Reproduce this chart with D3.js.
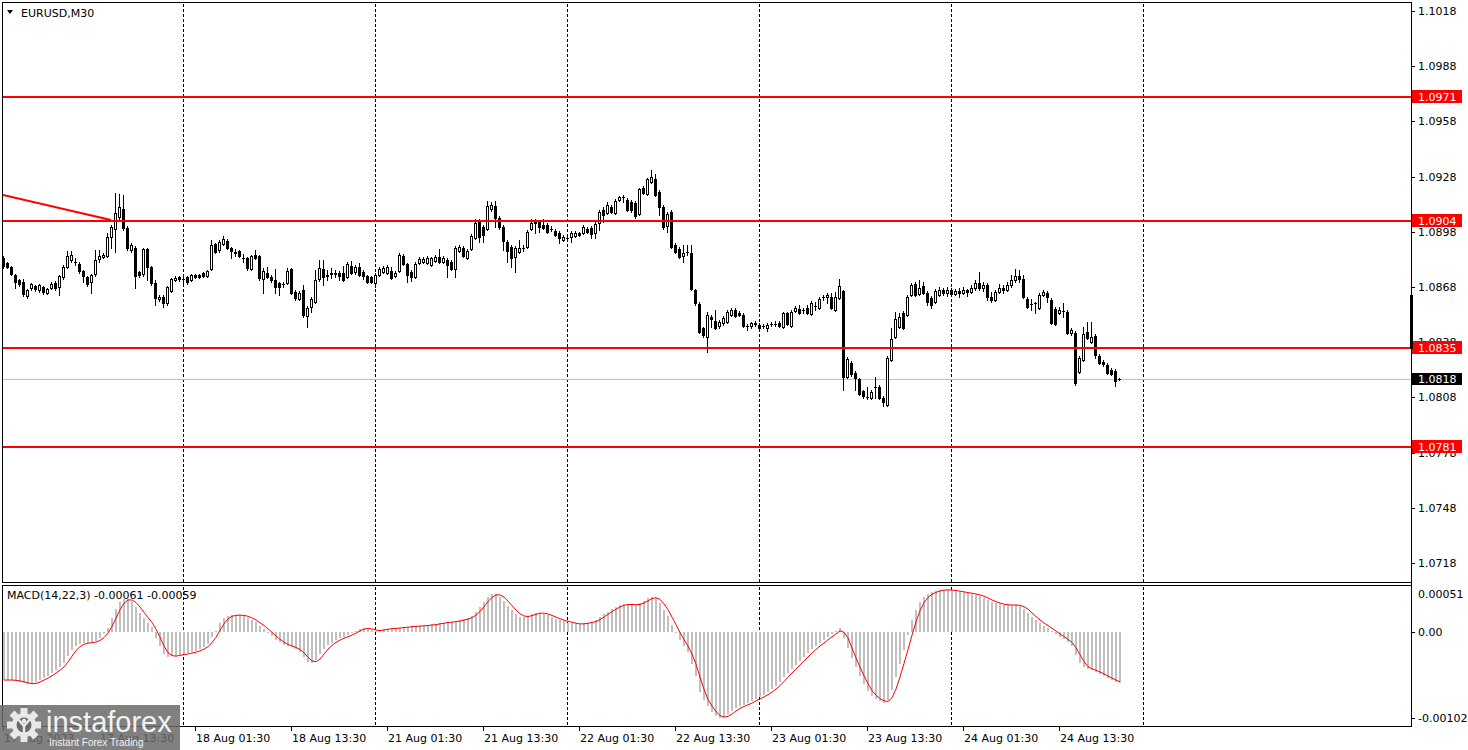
<!DOCTYPE html>
<html><head><meta charset="utf-8">
<script src="https://cdn.jsdelivr.net/npm/d3@7"></script>
<style>
body{margin:0;background:#fff;overflow:hidden;}
svg{display:block;}
text{font-family:"DejaVu Sans",sans-serif;font-size:11px;}
</style>
</head><body>
<svg id="c" width="1468" height="750"></svg>
<script>
// ---------- DATA (EURUSD M30, 17–24 Aug 2023) ----------
const opens = [
1.08837,1.08810,1.08789,1.08745,1.08718,1.08707,1.08631,1.08675,1.08685,1.08664,
1.08680,1.08647,1.08675,1.08702,1.08680,1.08734,1.08789,1.08827,1.08816,1.08805,
1.08767,1.08734,1.08707,1.08751,1.08832,1.08843,1.08848,1.08952,1.08995,1.09060,
1.09104,1.09001,1.08881,1.08892,1.08762,1.08751,1.08886,1.08789,1.08702,1.08615,
1.08626,1.08593,1.08658,1.08718,1.08734,1.08723,1.08734,1.08718,1.08745,1.08745,
1.08756,1.08740,1.08778,1.08914,1.08881,1.08914,1.08930,1.08892,1.08870,1.08876,
1.08837,1.08837,1.08778,1.08854,1.08848,1.08723,1.08756,1.08734,1.08718,1.08702,
1.08696,1.08702,1.08778,1.08653,1.08615,1.08664,1.08522,1.08571,1.08598,1.08723,
1.08778,1.08740,1.08751,1.08756,1.08756,1.08756,1.08734,1.08794,1.08762,1.08789,
1.08762,1.08740,1.08734,1.08702,1.08745,1.08762,1.08756,1.08767,1.08740,1.08767,
1.08848,1.08805,1.08762,1.08734,1.08810,1.08816,1.08810,1.08800,1.08821,1.08843,
1.08816,1.08827,1.08816,1.08778,1.08876,1.08892,1.08837,1.08886,1.08946,1.09039,
1.09006,1.08995,1.09104,1.09120,1.09055,1.09006,1.08924,1.08897,1.08843,1.08870,
1.08892,1.08897,1.08995,1.09039,1.09033,1.09017,1.09017,1.08995,1.08984,1.08973,
1.08935,1.08946,1.08952,1.08957,1.08973,1.08973,1.08995,1.09001,1.08973,1.09028,
1.09098,1.09082,1.09115,1.09082,1.09153,1.09169,1.09153,1.09142,1.09137,1.09077,
1.09218,1.09185,1.09251,1.09267,1.09196,1.09115,1.09011,1.09088,1.08908,1.08886,
1.08848,1.08870,1.08865,1.08664,1.08588,1.08457,1.08408,1.08517,1.08495,1.08468,
1.08484,1.08490,1.08528,1.08555,1.08539,1.08528,1.08468,1.08468,1.08484,1.08473,
1.08468,1.08457,1.08479,1.08479,1.08484,1.08462,1.08539,1.08468,1.08550,1.08560,
1.08555,1.08566,1.08533,1.08577,1.08566,1.08626,1.08626,1.08626,1.08555,1.08620,
1.08658,1.08191,1.08267,1.08212,1.08180,1.08115,1.08082,1.08077,1.08137,1.08137,
1.08077,1.08039,1.08283,1.08408,1.08462,1.08539,1.08528,1.08636,1.08696,1.08642,
1.08685,1.08647,1.08620,1.08598,1.08636,1.08664,1.08647,1.08664,1.08642,1.08658,
1.08647,1.08664,1.08653,1.08675,1.08702,1.08675,1.08691,1.08626,1.08609,1.08653,
1.08675,1.08664,1.08691,1.08718,1.08740,1.08723,1.08615,1.08588,1.08593,1.08566,
1.08636,1.08647,1.08609,1.08560,1.08539,1.08550,1.08544,1.08430,1.08430,1.08218,
1.08283,1.08435,1.08381,1.08414,1.08305,1.08272,1.08256,1.08229,1.08223,1.08180];
const highs = [
1.08848,1.08816,1.08794,1.08751,1.08723,1.08723,1.08669,1.08702,1.08691,1.08696,
1.08685,1.08675,1.08707,1.08713,1.08745,1.08800,1.08876,1.08876,1.08837,1.08816,
1.08772,1.08740,1.08751,1.08881,1.08881,1.08865,1.08973,1.09017,1.09191,1.09185,
1.09180,1.09011,1.08919,1.08903,1.08767,1.08892,1.08892,1.08794,1.08718,1.08636,
1.08636,1.08685,1.08729,1.08740,1.08740,1.08734,1.08740,1.08751,1.08751,1.08751,
1.08762,1.08772,1.08935,1.08919,1.08935,1.08957,1.08941,1.08897,1.08886,1.08881,
1.08859,1.08843,1.08854,1.08881,1.08854,1.08783,1.08789,1.08745,1.08778,1.08707,
1.08707,1.08783,1.08783,1.08664,1.08658,1.08691,1.08577,1.08626,1.08772,1.08827,
1.08827,1.08772,1.08783,1.08772,1.08767,1.08794,1.08816,1.08821,1.08800,1.08810,
1.08772,1.08745,1.08740,1.08756,1.08789,1.08794,1.08800,1.08789,1.08767,1.08865,
1.08859,1.08810,1.08772,1.08816,1.08843,1.08843,1.08848,1.08843,1.08854,1.08886,
1.08848,1.08837,1.08827,1.08903,1.08908,1.08903,1.08886,1.08968,1.09049,1.09049,
1.09017,1.09147,1.09142,1.09147,1.09066,1.09017,1.08935,1.08908,1.08903,1.08935,
1.08908,1.08990,1.09049,1.09049,1.09044,1.09049,1.09028,1.09011,1.08995,1.08984,
1.08963,1.08957,1.08984,1.08984,1.08979,1.09017,1.09006,1.09011,1.09033,1.09098,
1.09115,1.09142,1.09126,1.09158,1.09175,1.09180,1.09164,1.09153,1.09147,1.09218,
1.09229,1.09273,1.09316,1.09294,1.09207,1.09126,1.09088,1.09098,1.08919,1.08897,
1.08908,1.08908,1.08908,1.08669,1.08598,1.08462,1.08544,1.08528,1.08555,1.08501,
1.08522,1.08555,1.08566,1.08566,1.08550,1.08539,1.08479,1.08490,1.08495,1.08484,
1.08479,1.08484,1.08490,1.08495,1.08495,1.08544,1.08544,1.08555,1.08577,1.08582,
1.08566,1.08582,1.08604,1.08598,1.08626,1.08636,1.08647,1.08647,1.08653,1.08723,
1.08664,1.08299,1.08278,1.08223,1.08185,1.08120,1.08137,1.08120,1.08191,1.08147,
1.08088,1.08305,1.08457,1.08544,1.08539,1.08550,1.08636,1.08702,1.08707,1.08718,
1.08707,1.08658,1.08631,1.08669,1.08680,1.08675,1.08680,1.08675,1.08669,1.08675,
1.08680,1.08669,1.08691,1.08718,1.08762,1.08707,1.08702,1.08653,1.08664,1.08696,
1.08691,1.08707,1.08745,1.08778,1.08772,1.08745,1.08626,1.08615,1.08598,1.08647,
1.08664,1.08658,1.08620,1.08571,1.08571,1.08593,1.08555,1.08457,1.08441,1.08305,
1.08462,1.08490,1.08490,1.08424,1.08316,1.08283,1.08267,1.08240,1.08234,1.08185];
const lows = [
1.08783,1.08783,1.08745,1.08675,1.08685,1.08631,1.08620,1.08664,1.08658,1.08653,
1.08642,1.08642,1.08669,1.08664,1.08636,1.08723,1.08783,1.08816,1.08800,1.08756,
1.08707,1.08685,1.08647,1.08740,1.08816,1.08837,1.08843,1.08892,1.08870,1.09049,
1.08990,1.08881,1.08870,1.08675,1.08734,1.08740,1.08718,1.08691,1.08582,1.08604,
1.08571,1.08582,1.08653,1.08713,1.08713,1.08696,1.08696,1.08713,1.08729,1.08729,
1.08734,1.08734,1.08772,1.08865,1.08870,1.08908,1.08886,1.08837,1.08848,1.08843,
1.08816,1.08772,1.08772,1.08832,1.08718,1.08647,1.08729,1.08707,1.08647,1.08636,
1.08680,1.08696,1.08642,1.08609,1.08609,1.08517,1.08462,1.08544,1.08593,1.08713,
1.08691,1.08718,1.08729,1.08734,1.08718,1.08713,1.08729,1.08751,1.08751,1.08740,
1.08723,1.08702,1.08702,1.08680,1.08740,1.08756,1.08751,1.08723,1.08734,1.08762,
1.08800,1.08707,1.08713,1.08729,1.08805,1.08810,1.08805,1.08794,1.08816,1.08810,
1.08810,1.08734,1.08772,1.08734,1.08870,1.08843,1.08832,1.08881,1.08941,1.08924,
1.08924,1.08990,1.09093,1.09006,1.08995,1.08881,1.08816,1.08789,1.08762,1.08865,
1.08876,1.08892,1.08990,1.08973,1.08979,1.08995,1.08973,1.08984,1.08957,1.08919,
1.08930,1.08935,1.08924,1.08952,1.08957,1.08968,1.08973,1.08946,1.08946,1.08990,
1.09033,1.09077,1.09082,1.09077,1.09147,1.09142,1.09093,1.09088,1.09055,1.09071,
1.09185,1.09180,1.09245,1.09175,1.09071,1.08995,1.08979,1.08892,1.08865,1.08837,
1.08816,1.08854,1.08664,1.08582,1.08430,1.08408,1.08327,1.08462,1.08452,1.08457,
1.08473,1.08484,1.08522,1.08517,1.08522,1.08462,1.08446,1.08457,1.08468,1.08446,
1.08457,1.08441,1.08468,1.08468,1.08462,1.08457,1.08473,1.08462,1.08544,1.08533,
1.08539,1.08533,1.08528,1.08555,1.08560,1.08609,1.08593,1.08560,1.08550,1.08615,
1.08120,1.08185,1.08196,1.08120,1.08093,1.08077,1.08071,1.08071,1.08077,1.08071,
1.08033,1.08033,1.08278,1.08403,1.08457,1.08452,1.08522,1.08631,1.08631,1.08636,
1.08642,1.08582,1.08566,1.08593,1.08631,1.08636,1.08631,1.08631,1.08636,1.08626,
1.08642,1.08631,1.08647,1.08664,1.08664,1.08658,1.08609,1.08598,1.08604,1.08647,
1.08647,1.08658,1.08680,1.08707,1.08707,1.08620,1.08566,1.08555,1.08539,1.08560,
1.08631,1.08598,1.08479,1.08473,1.08533,1.08517,1.08424,1.08419,1.08147,1.08212,
1.08278,1.08397,1.08375,1.08294,1.08261,1.08251,1.08207,1.08202,1.08142,1.08175];
const closes = [
1.08794,1.08789,1.08751,1.08707,1.08696,1.08642,1.08664,1.08696,1.08669,1.08691,
1.08653,1.08669,1.08696,1.08675,1.08740,1.08789,1.08848,1.08854,1.08814,1.08767,
1.08740,1.08696,1.08745,1.08827,1.08848,1.08854,1.08952,1.09006,1.09082,1.09115,
1.09001,1.08892,1.08908,1.08740,1.08745,1.08886,1.08789,1.08702,1.08620,1.08626,
1.08593,1.08680,1.08723,1.08729,1.08723,1.08721,1.08707,1.08745,1.08734,1.08734,
1.08740,1.08767,1.08908,1.08870,1.08924,1.08941,1.08892,1.08876,1.08865,1.08848,
1.08835,1.08783,1.08848,1.08837,1.08729,1.08767,1.08734,1.08718,1.08680,1.08680,
1.08694,1.08767,1.08647,1.08620,1.08647,1.08528,1.08566,1.08615,1.08718,1.08783,
1.08734,1.08745,1.08756,1.08751,1.08740,1.08718,1.08805,1.08756,1.08789,1.08745,
1.08740,1.08707,1.08707,1.08745,1.08778,1.08783,1.08789,1.08729,1.08756,1.08854,
1.08805,1.08745,1.08734,1.08805,1.08832,1.08832,1.08837,1.08837,1.08843,1.08816,
1.08837,1.08800,1.08778,1.08892,1.08897,1.08848,1.08876,1.08957,1.09028,1.08952,
1.08963,1.09120,1.09126,1.09055,1.09006,1.08930,1.08876,1.08837,1.08892,1.08892,
1.08890,1.08979,1.09028,1.09028,1.09006,1.09001,1.08979,1.08993,1.08963,1.08946,
1.08952,1.08944,1.08973,1.08973,1.08963,1.09006,1.08979,1.08968,1.09022,1.09088,
1.09071,1.09126,1.09088,1.09147,1.09169,1.09167,1.09098,1.09098,1.09066,1.09213,
1.09191,1.09267,1.09278,1.09180,1.09115,1.09006,1.09077,1.08897,1.08870,1.08843,
1.08865,1.08868,1.08669,1.08593,1.08435,1.08419,1.08528,1.08506,1.08457,1.08490,
1.08511,1.08544,1.08555,1.08522,1.08528,1.08468,1.08466,1.08484,1.08479,1.08457,
1.08466,1.08473,1.08477,1.08481,1.08468,1.08539,1.08479,1.08544,1.08566,1.08539,
1.08553,1.08539,1.08593,1.08579,1.08615,1.08624,1.08636,1.08566,1.08626,1.08685,
1.08191,1.08289,1.08207,1.08185,1.08098,1.08088,1.08080,1.08109,1.08135,1.08077,
1.08055,1.08294,1.08397,1.08506,1.08517,1.08457,1.08626,1.08691,1.08636,1.08675,
1.08647,1.08598,1.08582,1.08658,1.08664,1.08647,1.08664,1.08642,1.08658,1.08647,
1.08664,1.08653,1.08675,1.08702,1.08675,1.08691,1.08626,1.08609,1.08653,1.08675,
1.08664,1.08691,1.08718,1.08740,1.08723,1.08626,1.08571,1.08586,1.08591,1.08636,
1.08653,1.08626,1.08484,1.08479,1.08555,1.08548,1.08430,1.08446,1.08158,1.08294,
1.08424,1.08403,1.08408,1.08310,1.08267,1.08261,1.08212,1.08207,1.08169,1.08180];
// MACD(14,22,3) main line (histogram), read bar by bar
const macdHist = [
-0.00057,-0.00057,-0.00057,-0.00058,-0.00059,-0.00060,-0.00062,-0.00062,-0.00059,-0.00057,
-0.00055,-0.00052,-0.00049,-0.00045,-0.00042,-0.00037,-0.00028,-0.00021,-0.00017,-0.00014,
-0.00013,-0.00013,-0.00012,-0.00011,-0.00007,-0.00002,0.00005,0.00017,0.00027,0.00036,
0.00039,0.00039,0.00036,0.00030,0.00023,0.00017,0.00011,0.00006,-0.00007,-0.00017,
-0.00026,-0.00030,-0.00028,-0.00028,-0.00027,-0.00026,-0.00025,-0.00024,-0.00023,-0.00020,
-0.00018,-0.00014,-0.00006,0.00001,0.00011,0.00017,0.00019,0.00020,0.00020,0.00020,
0.00019,0.00017,0.00014,0.00012,0.00007,0.00004,0.00000,-0.00005,-0.00009,-0.00012,
-0.00015,-0.00017,-0.00018,-0.00020,-0.00024,-0.00030,-0.00036,-0.00037,-0.00033,-0.00026,
-0.00020,-0.00015,-0.00013,-0.00009,-0.00007,-0.00006,-0.00004,-0.00001,0.00001,0.00004,
0.00005,0.00004,0.00002,0.00001,0.00002,0.00004,0.00004,0.00004,0.00005,0.00005,
0.00006,0.00006,0.00007,0.00007,0.00007,0.00008,0.00008,0.00009,0.00009,0.00011,
0.00011,0.00012,0.00012,0.00013,0.00014,0.00015,0.00017,0.00019,0.00024,0.00030,
0.00036,0.00042,0.00045,0.00045,0.00042,0.00037,0.00031,0.00026,0.00021,0.00018,
0.00018,0.00019,0.00021,0.00023,0.00023,0.00021,0.00020,0.00018,0.00015,0.00014,
0.00013,0.00011,0.00011,0.00009,0.00009,0.00011,0.00011,0.00012,0.00014,0.00018,
0.00021,0.00024,0.00027,0.00030,0.00032,0.00033,0.00033,0.00032,0.00032,0.00034,
0.00037,0.00040,0.00042,0.00040,0.00034,0.00026,0.00019,0.00008,-0.00001,-0.00009,
-0.00017,-0.00024,-0.00038,-0.00052,-0.00071,-0.00081,-0.00088,-0.00095,-0.00100,-0.00102,
-0.00101,-0.00097,-0.00094,-0.00090,-0.00088,-0.00087,-0.00084,-0.00082,-0.00079,-0.00077,
-0.00075,-0.00071,-0.00068,-0.00064,-0.00059,-0.00053,-0.00049,-0.00044,-0.00039,-0.00034,
-0.00030,-0.00025,-0.00020,-0.00017,-0.00013,-0.00009,-0.00006,-0.00002,0.00001,0.00005,
-0.00007,-0.00019,-0.00031,-0.00042,-0.00052,-0.00062,-0.00070,-0.00076,-0.00079,-0.00082,
-0.00084,-0.00081,-0.00069,-0.00053,-0.00038,-0.00021,-0.00004,0.00014,0.00026,0.00036,
0.00042,0.00045,0.00047,0.00049,0.00050,0.00050,0.00050,0.00049,0.00049,0.00047,
0.00047,0.00046,0.00045,0.00044,0.00043,0.00040,0.00038,0.00036,0.00034,0.00033,
0.00032,0.00032,0.00032,0.00032,0.00031,0.00027,0.00023,0.00018,0.00014,0.00011,
0.00007,0.00005,0.00001,-0.00002,-0.00006,-0.00008,-0.00012,-0.00017,-0.00027,-0.00037,
-0.00042,-0.00044,-0.00045,-0.00047,-0.00050,-0.00052,-0.00055,-0.00057,-0.00059,-0.00061];
const levels = [1.0971, 1.0904, 1.0835, 1.0781];
const currentPrice = 1.0818;
const priceTicks = [1.1018,1.0988,1.0958,1.0928,1.0898,1.0868,1.0838,1.0808,1.0778,1.0748,1.0718];
const macdTicks = [0.00051, 0.00, -0.00102];
const macdTickText = ["0.00051","0.00","-0.00102"];
const timeLabels = ["17 Aug 2023","17 Aug 13:30","18 Aug 01:30","18 Aug 13:30","21 Aug 01:30","21 Aug 13:30","22 Aug 01:30","22 Aug 13:30","23 Aug 01:30","23 Aug 13:30","24 Aug 01:30","24 Aug 13:30"];
const timeLabelIdx = [0,24,48,72,96,120,144,168,192,216,240,264];
const dayStartIdx = [45,93,141,189,237,285];
const trendIdx = [0, 27];
const trendPrice = [1.09180, 1.09044];
const title = "EURUSD,M30";
const macdTitle = "MACD(14,22,3) -0.00061 -0.00059";

// ---------- LAYOUT ----------
const L = 2.5, R = 1411.5, MT = 2.5, MB = 582.5, ST = 585.5, SB = 726.5;
const svg = d3.select('#c').attr('shape-rendering','crispEdges');
svg.append('rect').attr('width',1468).attr('height',750).attr('fill','#fff');

const x = d3.scaleLinear().domain([0,352]).range([3,1411]);
const y = d3.scaleLinear().domain([1.0718,1.1018]).range([563,11]);
const ym = d3.scaleLinear().domain([-0.00102,0]).range([718,632]);

const defs = svg.append('defs');
defs.append('clipPath').attr('id','cm').append('rect').attr('x',3).attr('y',3).attr('width',1408).attr('height',579);
defs.append('clipPath').attr('id','cs').append('rect').attr('x',3).attr('y',586).attr('width',1408).attr('height',140);

// grid (day separators)
[[MT,MB],[ST,SB]].forEach(([t,b])=>{
  svg.append('g').selectAll('line').data(dayStartIdx).join('line')
    .attr('x1',d=>Math.round(x(d))+0.5).attr('x2',d=>Math.round(x(d))+0.5)
    .attr('y1',t+1).attr('y2',b-0.5)
    .attr('stroke','#000').attr('stroke-width',1).attr('stroke-dasharray','3,2');
});

const gm = svg.append('g').attr('clip-path','url(#cm)');
// current price line
gm.append('line').attr('x1',3).attr('x2',1411).attr('y1',Math.round(y(currentPrice))+0.5).attr('y2',Math.round(y(currentPrice))+0.5)
  .attr('stroke','#c0c0c0').attr('stroke-width',1);

// candles
const candles = opens.map((o,i)=>({i,o,h:highs[i],l:lows[i],c:closes[i]}));
const cg = gm.append('g');
cg.selectAll('rect.w').data(candles).join('rect').attr('class','w')
  .attr('x',d=>Math.round(x(d.i))).attr('width',1)
  .attr('y',d=>Math.round(y(d.h))).attr('height',d=>Math.max(1,Math.round(y(d.l))-Math.round(y(d.h))+1))
  .attr('fill','#000');
function bodyTop(d){return Math.round(y(Math.max(d.o,d.c)));}
function bodyH(d){return Math.max(1,Math.round(y(Math.min(d.o,d.c)))-bodyTop(d)+1);}
cg.selectAll('rect.b').data(candles).join('rect').attr('class','b')
  .attr('x',d=>Math.round(x(d.i))-1).attr('width',3)
  .attr('y',bodyTop).attr('height',bodyH).attr('fill','#000');
cg.selectAll('rect.h').data(candles.filter(d=>d.c>d.o && bodyH(d)>2)).join('rect').attr('class','h')
  .attr('x',d=>Math.round(x(d.i))).attr('width',1)
  .attr('y',d=>bodyTop(d)+1).attr('height',d=>bodyH(d)-2).attr('fill','#fff');

// horizontal levels
gm.append('g').selectAll('line').data(levels).join('line')
  .attr('x1',3).attr('x2',1411).attr('y1',d=>Math.round(y(d))).attr('y2',d=>Math.round(y(d)))
  .attr('stroke','#ff0000').attr('stroke-width',2);
// trend line
gm.append('line').attr('x1',x(trendIdx[0])).attr('y1',y(trendPrice[0])).attr('x2',x(trendIdx[1])).attr('y2',y(trendPrice[1]))
  .attr('stroke','#ff0000').attr('stroke-width',2).attr('shape-rendering','auto');

// MACD panel
const gs = svg.append('g').attr('clip-path','url(#cs)');
gs.selectAll('rect').data(macdHist).join('rect')
  .attr('x',(d,i)=>Math.round(x(i))).attr('width',2)
  .attr('y',d=>Math.round(Math.min(ym(d),ym(0)))).attr('height',d=>Math.max(1,Math.round(Math.abs(ym(d)-ym(0)))))
  .attr('fill','#c0c0c0');
const signal = macdHist.map((v,i)=>d3.mean(macdHist.slice(Math.max(0,i-2),i+1)));
gs.append('path').datum(signal)
  .attr('d',d3.line().x((d,i)=>x(i)+1).y(d=>ym(d)))
  .attr('fill','none').attr('stroke','#ff0000').attr('stroke-width',1).attr('shape-rendering','auto');

// borders
svg.append('rect').attr('x',L).attr('y',MT).attr('width',R-L).attr('height',MB-MT).attr('fill','none').attr('stroke','#000');
svg.append('rect').attr('x',L).attr('y',ST).attr('width',R-L).attr('height',SB-ST).attr('fill','none').attr('stroke','#000');
svg.append('line').attr('x1',R).attr('x2',R).attr('y1',MT).attr('y2',SB).attr('stroke','#000');

// right price axis
const ax = svg.append('g');
ax.selectAll('line').data(priceTicks).join('line')
  .attr('x1',R).attr('x2',R+3).attr('y1',d=>Math.round(y(d))+0.5).attr('y2',d=>Math.round(y(d))+0.5).attr('stroke','#000');
ax.selectAll('text').data(priceTicks).join('text')
  .attr('x',1418).attr('y',d=>y(d)+4).attr('fill','#000').text(d=>d.toFixed(4));
// level labels
const lg = svg.append('g');
lg.selectAll('rect').data(levels).join('rect')
  .attr('x',1412).attr('y',d=>Math.round(y(d))-7).attr('width',50).attr('height',13).attr('fill','#ff0000');
lg.selectAll('text').data(levels).join('text')
  .attr('x',1418).attr('y',d=>Math.round(y(d))+4).attr('fill','#fff').text(d=>d.toFixed(4));
svg.append('rect').attr('x',1412).attr('y',Math.round(y(currentPrice))-6).attr('width',50).attr('height',12).attr('fill','#000');
svg.append('text').attr('x',1418).attr('y',Math.round(y(currentPrice))+4).attr('fill','#fff').text(currentPrice.toFixed(4));
// right-edge marker
svg.append('rect').attr('x',1410).attr('y',295).attr('width',3).attr('height',54).attr('fill','#000');

// MACD axis
svg.append('g').selectAll('line').data(macdTicks.slice(1)).join('line')
  .attr('x1',R).attr('x2',R+3).attr('y1',d=>Math.round(ym(d))+0.5).attr('y2',d=>Math.round(ym(d))+0.5).attr('stroke','#000');
svg.append('g').selectAll('text').data(macdTicks).join('text')
  .attr('x',1418).attr('y',(d,i)=>i===0?598:ym(d)+4).attr('fill','#000').text((d,i)=>macdTickText[i]);

// time axis
const tg = svg.append('g');
tg.selectAll('line').data(timeLabelIdx).join('line')
  .attr('x1',d=>Math.round(x(d))+0.5).attr('x2',d=>Math.round(x(d))+0.5).attr('y1',SB).attr('y2',SB+4).attr('stroke','#000');
tg.selectAll('text').data(timeLabels).join('text')
  .attr('x',(d,i)=>Math.round(x(timeLabelIdx[i]))+1).attr('y',742).attr('fill','#000').text(d=>d);

// titles
svg.append('path').attr('d','M7,10 L13,10 L10,14 Z').attr('fill','#000').attr('shape-rendering','auto');
svg.append('text').attr('x',21).attr('y',17).attr('fill','#000').text(title);
svg.append('text').attr('x',7).attr('y',599).attr('fill','#000').text(macdTitle);

// watermark logo
const lgo = svg.append('g').attr('shape-rendering','auto');
lgo.append('rect').attr('x',0).attr('y',705).attr('width',180).attr('height',45).attr('fill','#6a6a6a').attr('opacity',0.85);
const gear = lgo.append('g').attr('transform','translate(24,725)');
gear.selectAll('rect').data(d3.range(8)).join('rect')
  .attr('x',-3.5).attr('y',-17).attr('width',7).attr('height',8).attr('fill','#e8e8e8')
  .attr('transform',d=>`rotate(${d*45})`);
gear.append('circle').attr('r',12).attr('fill','#e8e8e8');
gear.append('circle').attr('r',7.5).attr('fill','#6a6a6a');
gear.append('circle').attr('cy',-4).attr('r',2.2).attr('fill','#e8e8e8');
gear.append('path').attr('d','M-6,-6 L0,1 L6,-6 M0,1 L0,9').attr('stroke','#e8e8e8').attr('stroke-width',2.5).attr('fill','none');
lgo.append('text').attr('x',46).attr('y',732).attr('fill','#f2f2f2')
  .style('font-family','"Liberation Sans",Arial,sans-serif').style('font-size','29px').text('instaforex');
lgo.append('text').attr('x',49).attr('y',746).attr('fill','#f2f2f2')
  .style('font-family','"Liberation Sans",Arial,sans-serif').style('font-size','10px').text('Instant Forex Trading');
</script>
</body></html>
